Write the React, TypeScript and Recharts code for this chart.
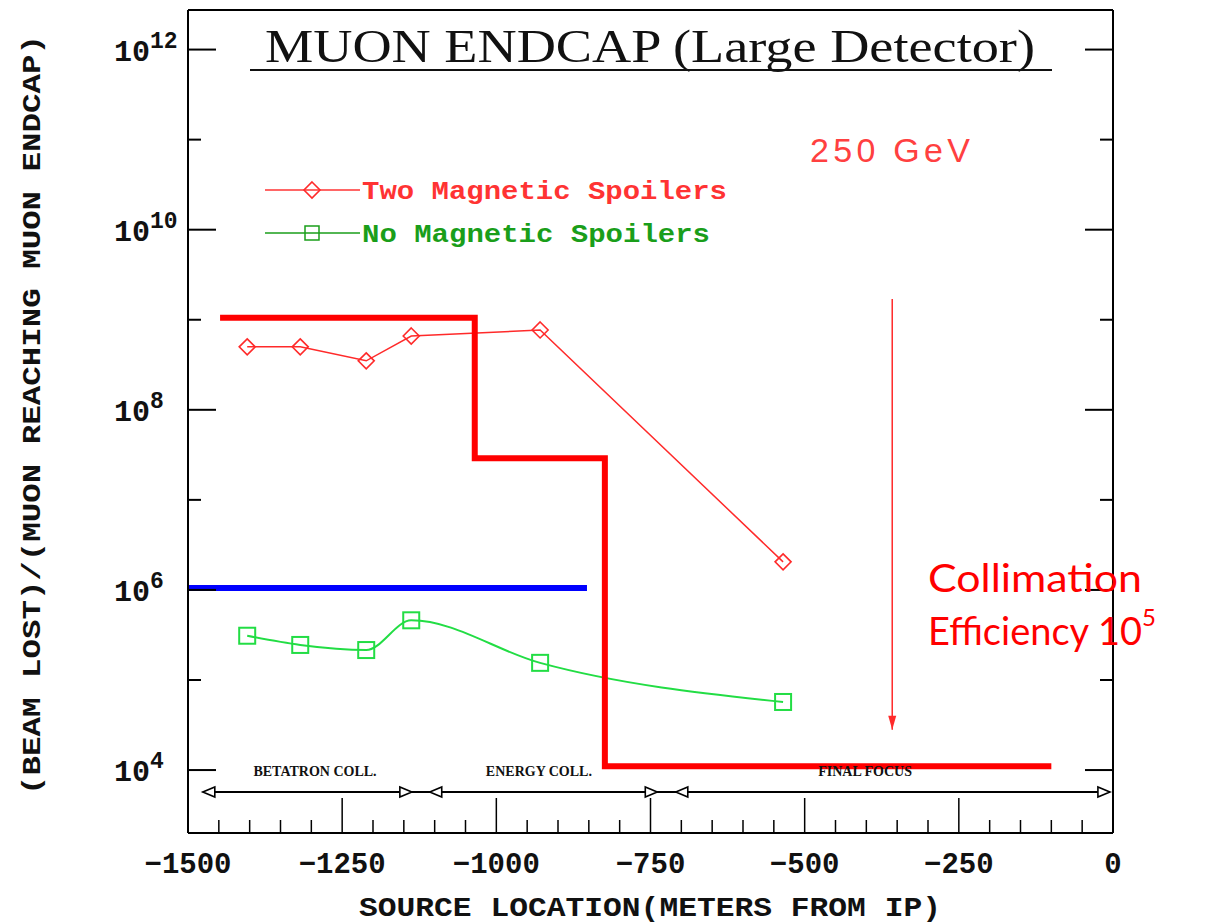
import {
  ComposedChart,
  Line,
  XAxis,
  YAxis,
  ReferenceLine,
  ReferenceDot,
} from "recharts";

// ---------------------------------------------------------------------------
// Data
// ---------------------------------------------------------------------------

const sourceX = [-1404, -1318, -1211, -1138, -929, -535];
const twoSpoilers = [5.0e8, 5.0e8, 3.5e8, 6.6e8, 7.7e8, 2.05e6];
const noSpoilers = [3.1e5, 2.45e5, 2.15e5, 4.6e5, 1.55e5, 5.7e4];

// thick red step (requirement) and blue level
const limitX = [-1448, -1035, -1035, -824, -824, -100];
const limitY = [1.05e9, 1.05e9, 2.9e7, 2.9e7, 1.1e4, 1.1e4];
const levelX = [-1500, -853];
const levelY = [1.05e6, 1.05e6];

// region bar along the bottom
const regionNames = ["BETATRON COLL.", "ENERGY COLL.", "FINAL FOCUS"];
const regionStart = [-1476, -1108, -709];
const regionEnd = [-1137, -739, -5];
const regionLabelX = [-1294, -931, -402];
const regionBarY = 5700;
const regionLabelY = 8600;

// "collimation" arrow
const arrowX = -358;
const arrowTop = 1.7e9;
const arrowTip = 2.8e4;

const xTicks = [
  -1500, -1450, -1400, -1350, -1300, -1250, -1200, -1150, -1100, -1050,
  -1000, -950, -900, -850, -800, -750, -700, -650, -600, -550,
  -500, -450, -400, -350, -300, -250, -200, -150, -100, -50, 0,
];
const yTicks = [1e4, 1e5, 1e6, 1e7, 1e8, 1e9, 1e10, 1e11, 1e12];
const yDomain = [2000, 2.75e12];

const RED = "#ff2a2a";
const GREEN = "#22dd44";
const LABEL_FONT = "'Liberation Mono', monospace";

const twoData = sourceX.map((x, i) => ({ x, y: twoSpoilers[i] }));
const noData = sourceX.map((x, i) => ({ x, y: noSpoilers[i] }));
const limitData = limitX.map((x, i) => ({ x, y: limitY[i] }));
const levelData = levelX.map((x, i) => ({ x, y: levelY[i] }));

// ---------------------------------------------------------------------------
// Marks and ticks
// ---------------------------------------------------------------------------

function Diamond(props: any) {
  const { cx, cy } = props;
  if (cx == null || cy == null) return null;
  const s = 8;
  return (
    <polygon
      points={`${cx},${cy - s} ${cx + s},${cy} ${cx},${cy + s} ${cx - s},${cy}`}
      fill="none"
      stroke={RED}
      strokeWidth={1.6}
    />
  );
}

function Square(props: any) {
  const { cx, cy } = props;
  if (cx == null || cy == null) return null;
  return (
    <rect x={cx - 8} y={cy - 8} width={16} height={16} fill="none" stroke={GREEN} strokeWidth={2} />
  );
}

function LeftTick({ x, y, payload }: any) {
  const exp = Math.round(Math.log10(payload.value));
  const major = exp % 2 === 0;
  return (
    <g>
      <line x1={x} x2={x + (major ? 28 : 13)} y1={y} y2={y} stroke="#000" strokeWidth={2} />
      {major && (
        <text fontFamily={LABEL_FONT} fontWeight="bold" fill="#111">
          <tspan x={x - 38} y={y + 11} textAnchor="end" fontSize={30}>10</tspan>
          <tspan x={x - 38} y={y - 2} textAnchor="start" fontSize={23}>{exp}</tspan>
        </text>
      )}
    </g>
  );
}

function RightTick({ x, y, payload }: any) {
  const exp = Math.round(Math.log10(payload.value));
  const major = exp % 2 === 0;
  return <line x1={x} x2={x - (major ? 28 : 13)} y1={y} y2={y} stroke="#000" strokeWidth={2} />;
}

function BottomTick({ x, y, payload }: any) {
  const v = payload.value as number;
  const major = v % 250 === 0;
  return (
    <g>
      <line x1={x} x2={x} y1={y} y2={y - (major ? 35 : 13)} stroke="#000" strokeWidth={1.5} />
      {major && (
        <text x={x} y={y + 40} textAnchor="middle" fontFamily={LABEL_FONT} fontWeight="bold" fontSize={29} fill="#111">
          {v < 0 ? `\u2212${Math.abs(v)}` : `${v}`}
        </text>
      )}
    </g>
  );
}

function arrowHead(dir: "left" | "right") {
  return (props: any) => {
    const { cx, cy } = props;
    const d = dir === "left" ? 1 : -1;
    return (
      <polygon
        points={`${cx},${cy} ${cx + d * 12},${cy - 5} ${cx + d * 12},${cy + 5}`}
        fill="#fff"
        stroke="#000"
        strokeWidth={1.6}
      />
    );
  };
}

function regionLabel(text: string) {
  return (props: any) => (
    <text
      x={props.cx}
      y={props.cy}
      textAnchor="middle"
      fontFamily="'Liberation Serif', serif"
      fontWeight="bold"
      fontSize={14}
      fill="#111"
    >
      {text}
    </text>
  );
}

function ArrowTip(props: any) {
  const { cx, cy } = props;
  return <polygon points={`${cx},${cy} ${cx - 4},${cy - 14} ${cx + 4},${cy - 14}`} fill={RED} />;
}

// ---------------------------------------------------------------------------
// Component
// ---------------------------------------------------------------------------

export default function App() {
  return (
    <div style={{ position: "absolute", left: 0, top: 0, width: 1214, height: 923, background: "#fff" }}>
      <ComposedChart width={1214} height={923} margin={{ top: 0, right: 0, bottom: 0, left: 0 }}>
        <XAxis
          dataKey="x"
          type="number"
          domain={[-1500, 0]}
          ticks={xTicks}
          interval={0}
          allowDataOverflow
          height={90}
          tickSize={0}
          tickMargin={0}
          tickLine={false}
          axisLine={{ stroke: "#000", strokeWidth: 2 }}
          tick={<BottomTick />}
        />
        <XAxis
          xAxisId="top"
          orientation="top"
          type="number"
          domain={[-1500, 0]}
          height={10}
          tick={false}
          tickLine={false}
          axisLine={{ stroke: "#000", strokeWidth: 2 }}
        />
        <YAxis
          dataKey="y"
          scale="log"
          type="number"
          domain={yDomain}
          ticks={yTicks}
          interval={0}
          allowDataOverflow
          width={188}
          tickSize={0}
          tickMargin={0}
          tickLine={false}
          axisLine={{ stroke: "#000", strokeWidth: 2 }}
          tick={<LeftTick />}
        />
        <YAxis
          yAxisId="right"
          orientation="right"
          scale="log"
          type="number"
          domain={yDomain}
          ticks={yTicks}
          interval={0}
          allowDataOverflow
          width={101}
          tickSize={0}
          tickMargin={0}
          tickLine={false}
          axisLine={{ stroke: "#000", strokeWidth: 2 }}
          tick={<RightTick />}
        />

        {/* simulation curves */}
        <Line
          data={twoData}
          dataKey="y"
          type="linear"
          stroke={RED}
          strokeWidth={1.5}
          dot={(p: any) => <Diamond key={`d${p.index}`} {...p} />}
          isAnimationActive={false}
        />
        <Line
          data={noData}
          dataKey="y"
          type="monotone"
          stroke={GREEN}
          strokeWidth={2}
          dot={(p: any) => <Square key={`s${p.index}`} {...p} />}
          isAnimationActive={false}
        />

        {/* thick overlays */}
        <Line data={levelData} dataKey="y" type="linear" stroke="#0000ff" strokeWidth={6} dot={false} isAnimationActive={false} />
        <Line data={limitData} dataKey="y" type="linear" stroke="#ff0000" strokeWidth={6} dot={false} isAnimationActive={false} />

        {/* collimation arrow */}
        <ReferenceLine
          segment={[{ x: arrowX, y: arrowTop }, { x: arrowX, y: arrowTip }]}
          stroke={RED}
          strokeWidth={1.5}
          ifOverflow="visible"
        />
        <ReferenceDot x={arrowX} y={arrowTip} r={0} shape={ArrowTip} ifOverflow="visible" />

        {/* region bar */}
        <ReferenceLine
          segment={[{ x: regionStart[0], y: regionBarY }, { x: regionEnd[2], y: regionBarY }]}
          stroke="#000"
          strokeWidth={2}
          ifOverflow="visible"
        />
        {regionNames.map((name, i) => (
          <ReferenceDot key={`rs${i}`} x={regionStart[i]} y={regionBarY} r={0} shape={arrowHead("left")} ifOverflow="visible" />
        ))}
        {regionNames.map((name, i) => (
          <ReferenceDot key={`re${i}`} x={regionEnd[i]} y={regionBarY} r={0} shape={arrowHead("right")} ifOverflow="visible" />
        ))}
        {regionNames.map((name, i) => (
          <ReferenceDot key={`rl${i}`} x={regionLabelX[i]} y={regionLabelY} r={0} shape={regionLabel(name)} ifOverflow="visible" />
        ))}
      </ComposedChart>

      {/* Title, legend, annotations, axis titles */}
      <svg
        width={1214}
        height={923}
        style={{ position: "absolute", left: 0, top: 0, pointerEvents: "none" }}
      >
        <text
          x={650}
          y={62}
          textAnchor="middle"
          fontFamily="'Liberation Serif', serif"
          fontSize={46}
          textLength={770}
          lengthAdjust="spacingAndGlyphs"
          fill="#111"
        >
          MUON ENDCAP (Large Detector)
        </text>
        <line x1={250} x2={1052} y1={70} y2={70} stroke="#111" strokeWidth={2} />

        <line x1={265} x2={360} y1={190} y2={190} stroke="#ff3333" strokeWidth={1.5} />
        <Diamond cx={312} cy={190} />
        <text x={362} y={199} fontFamily={LABEL_FONT} fontWeight="bold" fontSize={26} textLength={365} lengthAdjust="spacingAndGlyphs" fill="#ff3333">
          Two Magnetic Spoilers
        </text>
        <line x1={265} x2={360} y1={233} y2={233} stroke="#1a9e1a" strokeWidth={1.5} />
        <rect x={305} y={226} width={14} height={14} fill="none" stroke="#1a9e1a" strokeWidth={1.5} />
        <text x={362} y={242} fontFamily={LABEL_FONT} fontWeight="bold" fontSize={26} textLength={348} lengthAdjust="spacingAndGlyphs" fill="#1a9e1a">
          No Magnetic Spoilers
        </text>

        <text x={810} y={162} fontFamily="'Liberation Sans', sans-serif" fontSize={34} textLength={160} fill="#ff4040">
          250 GeV
        </text>

        <text x={928} y={592} fontFamily="Lato, sans-serif" fontSize={38} textLength={214} lengthAdjust="spacingAndGlyphs" fill="#ff0000">
          Collimation
        </text>
        <text x={928} y={645} fontFamily="Lato, sans-serif" fontSize={38} fill="#ff0000">
          Efficiency 10
          <tspan dy={-19} fontSize={24}>5</tspan>
        </text>

        <text
          x={650}
          y={916}
          textAnchor="middle"
          fontFamily={LABEL_FONT}
          fontWeight="bold"
          fontSize={27}
          textLength={582}
          lengthAdjust="spacingAndGlyphs"
          fill="#111"
        >
          SOURCE LOCATION(METERS FROM IP)
        </text>
        <text
          transform="translate(40,415) rotate(-90)"
          textAnchor="middle"
          fontFamily={LABEL_FONT}
          fontWeight="bold"
          fontSize={25}
          textLength={760}
          lengthAdjust="spacingAndGlyphs"
          fill="#111"
        >
          (BEAM LOST)/(MUON REACHING MUON ENDCAP)
        </text>
      </svg>
    </div>
  );
}
